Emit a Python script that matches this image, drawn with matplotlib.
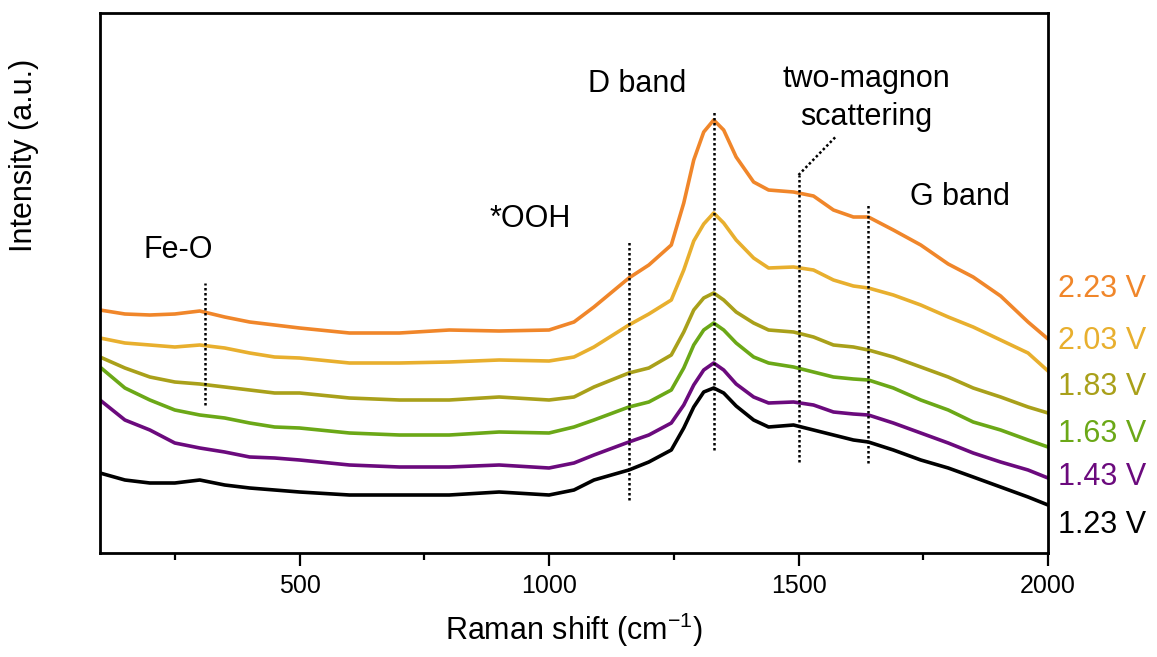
"""In-situ Raman spectra at increasing potential, stacked with offsets."""

import matplotlib
matplotlib.use("Agg")
import matplotlib.pyplot as plt
from matplotlib.ticker import MultipleLocator, NullLocator

# Raman shift (cm-1) sample points
shift = [100, 150, 200, 250, 300, 350, 400, 450, 500, 600, 700, 800, 900,
         1000, 1050, 1090, 1160, 1200, 1245, 1270, 1290, 1310, 1330, 1350,
         1375, 1410, 1440, 1490, 1530, 1570, 1610, 1640, 1690, 1745, 1800,
         1850, 1905, 1960, 2000]

# offset intensities (a.u.), one list per potential
i_223 = [243, 239, 238, 239, 242, 236, 231, 228, 225, 220, 220, 223, 222,
         223, 231, 246, 275, 288, 308, 350, 393, 421, 433, 423, 396, 371,
         363, 361, 357, 343, 336, 336, 323, 308, 289, 276, 257, 231, 214]
i_203 = [215, 210, 208, 206, 208, 205, 200, 196, 195, 190, 190, 191, 193,
         192, 196, 206, 228, 239, 253, 283, 312, 329, 340, 330, 313, 295,
         285, 286, 283, 273, 267, 265, 258, 248, 236, 226, 213, 200, 182]
i_183 = [196, 185, 176, 171, 169, 166, 163, 160, 160, 155, 153, 153, 156,
         153, 156, 166, 180, 185, 198, 221, 243, 255, 260, 253, 241, 230,
         223, 221, 216, 208, 206, 203, 196, 186, 176, 165, 156, 146, 140]
i_163 = [186, 165, 153, 143, 138, 135, 130, 126, 125, 120, 118, 118, 121,
         120, 126, 133, 146, 151, 163, 185, 208, 223, 230, 223, 210, 196,
         190, 186, 181, 176, 174, 173, 165, 153, 143, 131, 123, 113, 106]
i_143 = [153, 133, 123, 110, 105, 101, 96, 95, 93, 88, 86, 86, 88,
         85, 90, 98, 111, 118, 130, 148, 168, 183, 190, 183, 169, 156,
         150, 151, 148, 141, 139, 138, 130, 120, 110, 100, 91, 83, 75]
i_123 = [80, 73, 70, 70, 73, 68, 65, 63, 61, 58, 58, 58, 61,
         58, 63, 73, 83, 91, 103, 125, 146, 161, 165, 160, 147, 133,
         126, 128, 123, 118, 113, 111, 103, 93, 85, 76, 66, 56, 48]

potentials = ["2.23 V", "2.03 V", "1.83 V", "1.63 V", "1.43 V", "1.23 V"]
spectra = [i_223, i_203, i_183, i_163, i_143, i_123]
colors = ["#F0862A", "#E8AF2E", "#A9A01A", "#6BA817", "#6B0A7D", "#000000"]
label_y = [264, 212, 166, 119, 76, 28]

# band markers: (x, y_bottom, y_top)
markers = [(310, 148, 270), (1160, 53, 313), (1330, 103, 443),
           (1500, 91, 378), (1640, 90, 350)]
bands = [("Fe-O", 256, 303), ("*OOH", 963, 334), ("D band", 1177, 469),
         ("two-magnon\nscattering", 1636, 455), ("G band", 1823, 356)]

plt.rcParams["font.family"] = ["Liberation Sans", "DejaVu Sans"]
plt.rcParams["mathtext.default"] = "regular"

fig = plt.figure(figsize=(11.57, 6.57), dpi=100)
ax = fig.add_axes([0.0864, 0.1583, 0.8194, 0.8219])

for y, c in zip(spectra, colors):
    ax.plot(shift, y, color=c, lw=2.6, solid_joinstyle="round")

dot = dict(color="black", lw=1.8, linestyle=(0, (1, 1)))
for x, y0, y1 in markers:
    ax.plot([x, x], [y0, y1], **dot)
# leader from the two-magnon marker to its label
ax.plot([1500, 1576], [378, 417], **dot)

for txt, x, y in bands:
    ax.text(x, y, txt, fontsize=22, ha="center", va="center", linespacing=1.35)

for lab, c, y in zip(potentials, colors, label_y):
    ax.text(2020, y, lab, fontsize=22, color=c, ha="left", va="center",
            clip_on=False)

ax.set_xlim(100, 2000)
ax.set_ylim(0, 540)
ax.xaxis.set_major_locator(MultipleLocator(500))
ax.xaxis.set_minor_locator(MultipleLocator(250))
ax.yaxis.set_major_locator(NullLocator())
ax.tick_params(axis="x", which="major", direction="out", length=9, width=1.6,
               labelsize=18, pad=6)
ax.tick_params(axis="x", which="minor", direction="out", length=5, width=1.6)
for s in ax.spines.values():
    s.set_linewidth(2)

ax.set_xlabel("Raman shift (cm$^{-1}$)", fontsize=22, labelpad=9)
ax.set_ylabel("Intensity (a.u.)", fontsize=22)
ax.yaxis.set_label_coords(-0.064, 0.737)

fig.savefig("out.png", dpi=100)
